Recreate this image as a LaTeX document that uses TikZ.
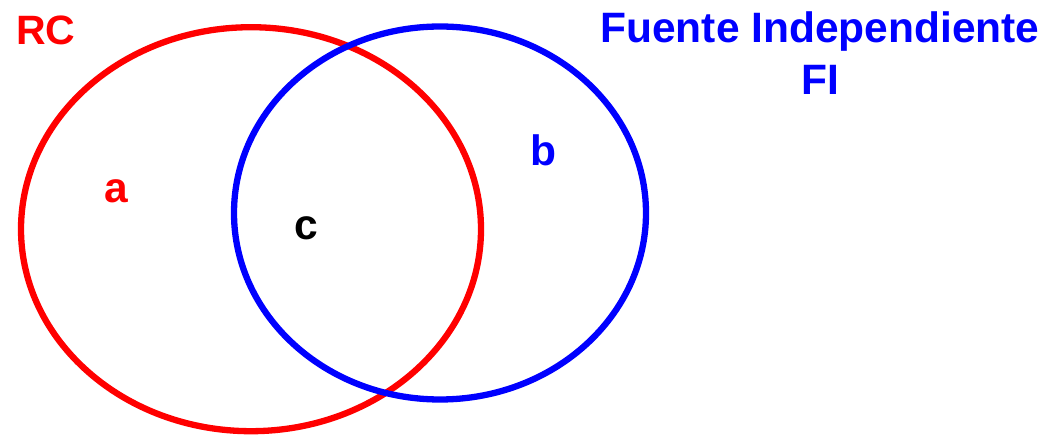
\documentclass[tikz,border=0pt]{standalone}
\usepackage{fontspec}
\setmainfont{Liberation Sans}
\begin{document}
\begin{tikzpicture}[x=1pt,y=-1pt,
  ring/.style={line width=6.3pt},
  lbl/.style={anchor=base,inner sep=0pt,font=\bfseries\fontsize{42.5}{52}\selectfont}]
\useasboundingbox (0,0) rectangle (1052,438);
\definecolor{vred}{RGB}{255,0,0}
\definecolor{vblue}{RGB}{0,0,255}
\draw[ring,vred] (251,229.2) ellipse [x radius=230, y radius=202];
\draw[ring,vblue] (440,213) ellipse [x radius=206, y radius=186.5];
\node[lbl,vred,font=\bfseries\fontsize{41}{48}\selectfont] (rc) at (46,45) {RC};
\node[lbl,vblue] (fi1) at (820,43) {Fuente Independiente};
\node[lbl,vblue] (fi2) at (820,95) {FI};
\node[lbl,vred] (a) at (116.5,203) {a};
\node[lbl,vblue] (b) at (543,166) {b};
\node[lbl,black] (c) at (306,240) {c};
\end{tikzpicture}
\end{document}
